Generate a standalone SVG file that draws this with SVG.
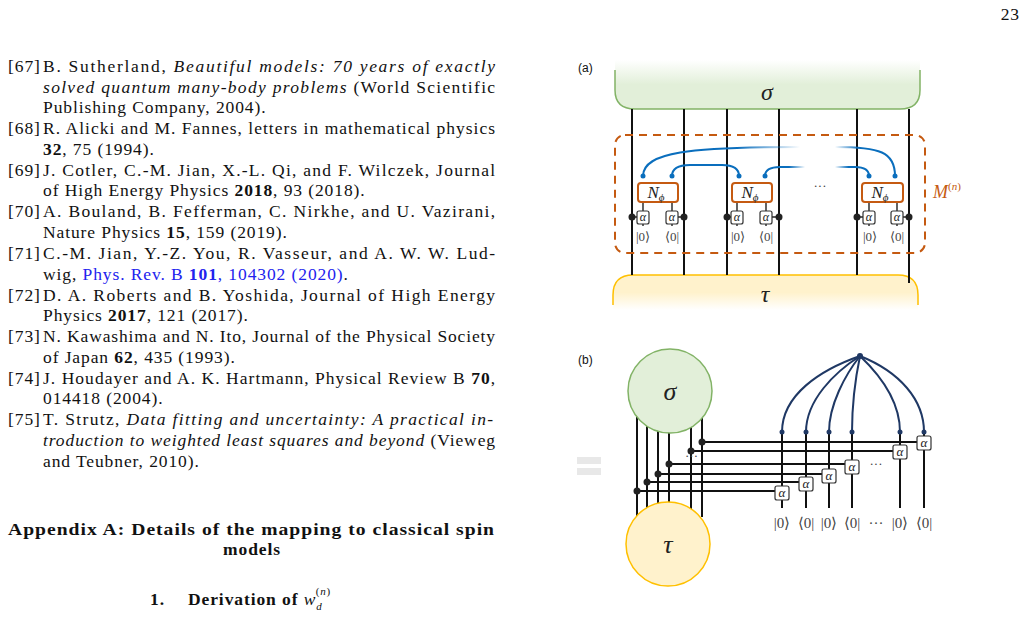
<svg xmlns="http://www.w3.org/2000/svg" width="1028" height="618" viewBox="0 0 1028 618">
<defs>
<style>
.t{font-family:"Liberation Serif",serif;font-size:17.5px;letter-spacing:0.9px;fill:#111}
.i{font-style:italic}
.b{font-weight:bold}
.lk{fill:#2222ee}
.sf{font-family:"Liberation Sans",sans-serif;font-size:12px;fill:#111}
.m{font-family:"Liberation Serif",serif;font-style:italic;fill:#222}
.k{font-family:"Liberation Serif",serif;fill:#444}
.w{stroke:#111;stroke-width:2;fill:none}
.bl{stroke:#0a6ebd;stroke-width:2;fill:none}
.nv{stroke:#1f3864;stroke-width:2;fill:none}
.al{fill:#fff;stroke:#333;stroke-width:1.2}
.nb{fill:#fff;stroke:#c55a11;stroke-width:2}
</style>
<linearGradient id="gs" x1="0" y1="0" x2="0" y2="1"><stop offset="0" stop-color="#fff"/><stop offset="0.5" stop-color="#e2efd9"/></linearGradient>
<linearGradient id="gt" x1="0" y1="0" x2="0" y2="1"><stop offset="0.5" stop-color="#fff2cc"/><stop offset="1" stop-color="#fff"/></linearGradient>
<linearGradient id="fadeR" x1="0" y1="0" x2="1" y2="0"><stop offset="0.6" stop-color="#0a6ebd"/><stop offset="1" stop-color="#0a6ebd" stop-opacity="0"/></linearGradient>
<linearGradient id="fadeL" x1="0" y1="0" x2="1" y2="0"><stop offset="0" stop-color="#0a6ebd" stop-opacity="0"/><stop offset="0.4" stop-color="#0a6ebd"/></linearGradient>
</defs>
<rect width="1028" height="618" fill="#fff"/>
<text class="t" x="1020" y="20" text-anchor="end">23</text>

<g id="refs">
<text class="t" x="8" y="72">[67]</text>
<text class="t" x="43" y="72" textLength="453" lengthAdjust="spacing">B. Sutherland, <tspan class="i">Beautiful models: 70 years of exactly</tspan></text>
<text class="t" x="43" y="93" textLength="453" lengthAdjust="spacing"><tspan class="i">solved quantum many-body problems</tspan> (World Scientific</text>
<text class="t" x="43" y="113">Publishing Company, 2004).</text>
<text class="t" x="8" y="134">[68]</text>
<text class="t" x="43" y="134" textLength="453" lengthAdjust="spacing">R. Alicki and M. Fannes, letters in mathematical physics</text>
<text class="t" x="43" y="155"><tspan class="b">32</tspan>, 75 (1994).</text>
<text class="t" x="8" y="176">[69]</text>
<text class="t" x="43" y="176" textLength="453" lengthAdjust="spacing">J. Cotler, C.-M. Jian, X.-L. Qi,  and F. Wilczek, Journal</text>
<text class="t" x="43" y="196">of High Energy Physics <tspan class="b">2018</tspan>, 93 (2018).</text>
<text class="t" x="8" y="217">[70]</text>
<text class="t" x="43" y="217" textLength="453" lengthAdjust="spacing">A. Bouland, B. Fefferman, C. Nirkhe,  and U. Vazirani,</text>
<text class="t" x="43" y="238">Nature Physics <tspan class="b">15</tspan>, 159 (2019).</text>
<text class="t" x="8" y="259">[71]</text>
<text class="t" x="43" y="259" textLength="453" lengthAdjust="spacing">C.-M. Jian, Y.-Z. You, R. Vasseur,  and A. W. W. Lud-</text>
<text class="t" x="43" y="280">wig, <tspan class="lk">Phys. Rev. B <tspan class="b">101</tspan>, 104302 (2020)</tspan>.</text>
<text class="t" x="8" y="301">[72]</text>
<text class="t" x="43" y="301" textLength="453" lengthAdjust="spacing">D. A. Roberts and B. Yoshida, Journal of High Energy</text>
<text class="t" x="43" y="321">Physics <tspan class="b">2017</tspan>, 121 (2017).</text>
<text class="t" x="8" y="342">[73]</text>
<text class="t" x="43" y="342" textLength="453" lengthAdjust="spacing">N. Kawashima and N. Ito, Journal of the Physical Society</text>
<text class="t" x="43" y="363">of Japan <tspan class="b">62</tspan>, 435 (1993).</text>
<text class="t" x="8" y="384">[74]</text>
<text class="t" x="43" y="384" textLength="453" lengthAdjust="spacing">J. Houdayer and A. K. Hartmann, Physical Review B <tspan class="b">70</tspan>,</text>
<text class="t" x="43" y="404">014418 (2004).</text>
<text class="t" x="8" y="425">[75]</text>
<text class="t" x="43" y="425" textLength="451" lengthAdjust="spacing">T. Strutz, <tspan class="i">Data fitting and uncertainty: A practical in-</tspan></text>
<text class="t" x="43" y="446" textLength="453" lengthAdjust="spacing"><tspan class="i">troduction to weighted least squares and beyond</tspan> (Vieweg</text>
<text class="t" x="43" y="467">and Teubner, 2010).</text>
<text class="t b" x="8" y="535" textLength="487" lengthAdjust="spacingAndGlyphs">Appendix A: Details of the mapping to classical spin</text>
<text class="t b" x="252" y="555" text-anchor="middle">models</text>
<text class="t b" x="150" y="605">1.</text>
<text class="t" x="188" y="605"><tspan class="b">Derivation of </tspan><tspan class="i">w</tspan><tspan class="i" font-size="11" dy="5">d</tspan><tspan font-size="11" dx="-7" dy="-15">(<tspan class="i">n</tspan>)</tspan></text>
</g>

<g id="panel-a">
<text class="sf" x="578" y="72">(a)</text>
<g id="sigma-a">
<path d="M615,60 L920,60 L920,90 Q920,109 900,109 L635,109 Q615,109 615,90 Z" fill="url(#gs)"/>
<path d="M615,70 L615,90 Q615,109 635,109 L900,109 Q920,109 920,90 L920,70" fill="none" stroke="#82b366" stroke-width="1.5"/>
<text class="m" x="767" y="100" font-size="24" text-anchor="middle">σ</text>
</g>
<g id="tau-a">
<path d="M613,310 L613,295 Q613,275 633,275 L898,275 Q918,275 918,295 L918,310 Z" fill="url(#gt)"/>
<path d="M613,305 L613,295 Q613,275 633,275 L898,275 Q918,275 918,295 L918,305" fill="none" stroke="#ffc000" stroke-width="1.5"/>
<text class="m" x="765" y="302" font-size="24" text-anchor="middle">τ</text>
</g>
<g id="wires-a" class="w">
<path d="M632,109V275M684,109V275M727,109V275M779,109V275M857,109V275M909,109V283"/>
<path d="M643,202V226M672,202V226M737,202V226M766,202V226M869,202V226M897,202V226" stroke-width="1.3"/>
</g>
<rect id="box-M" x="615" y="135" width="310" height="118" rx="10" fill="none" stroke="#c55a11" stroke-width="2" stroke-dasharray="8,6"/>
<text class="m" x="933" y="198" font-size="18" style="fill:#c55a11">M<tspan font-size="11" dy="-8" font-style="normal">(</tspan><tspan font-size="11">n</tspan><tspan font-size="11" font-style="normal">)</tspan></text>
<g id="arcs-a">
<path d="M643,176 C643,152 690,147 800,147" stroke="url(#fadeR)" stroke-width="2" fill="none"/>
<path d="M835,147 C880,147 895,152 895,176" stroke="url(#fadeL)" stroke-width="2" fill="none"/>
<path class="bl" d="M672,176 Q672,165 690,165 L722,165 Q739,165 739,176"/>
<path d="M765,176 Q765,167 780,167 L805,167" stroke="url(#fadeR)" stroke-width="2" fill="none"/>
<path d="M835,167 L855,167 Q869,167 869,176" stroke="url(#fadeL)" stroke-width="2" fill="none"/>
<g fill="#0a6ebd"><circle cx="643" cy="176" r="2.5"/><circle cx="672" cy="176" r="2.5"/><circle cx="739" cy="176" r="2.5"/><circle cx="765" cy="176" r="2.5"/><circle cx="869" cy="176" r="2.5"/><circle cx="895" cy="176" r="2.5"/></g>
</g>
<g id="N1"><rect class="nb" x="638" y="183" width="40" height="19" rx="3"/><text class="m" x="656" y="198" font-size="17" text-anchor="middle">N<tspan font-size="11" dy="3">ϕ</tspan></text></g>
<g id="N2"><rect class="nb" x="732" y="183" width="40" height="19" rx="3"/><text class="m" x="750" y="198" font-size="17" text-anchor="middle">N<tspan font-size="11" dy="3">ϕ</tspan></text></g>
<g id="N3"><rect class="nb" x="862" y="183" width="41" height="19" rx="3"/><text class="m" x="880" y="198" font-size="17" text-anchor="middle">N<tspan font-size="11" dy="3">ϕ</tspan></text></g>
<text class="k" x="820" y="190" font-size="13" text-anchor="middle">···</text>
<g id="alphas-a">
<g fill="#222"><circle cx="632" cy="217" r="3.5"/><circle cx="684" cy="217" r="3.5"/><circle cx="727" cy="217" r="3.5"/><circle cx="779" cy="217" r="3.5"/><circle cx="857" cy="217" r="3.5"/><circle cx="909" cy="217" r="3.5"/></g>
<path d="M632,217H637M684,217H678M727,217H731M779,217H772M857,217H863M909,217H903" stroke="#222" stroke-width="1.3"/>
<rect class="al" x="637" y="211" width="12" height="13" rx="2"/><rect class="al" x="666" y="211" width="12" height="13" rx="2"/>
<rect class="al" x="731" y="211" width="12" height="13" rx="2"/><rect class="al" x="760" y="211" width="12" height="13" rx="2"/>
<rect class="al" x="863" y="211" width="12" height="13" rx="2"/><rect class="al" x="891" y="211" width="12" height="13" rx="2"/>
<g class="m" font-size="12" text-anchor="middle"><text x="643" y="221">α</text><text x="672" y="221">α</text><text x="737" y="221">α</text><text x="766" y="221">α</text><text x="869" y="221">α</text><text x="897" y="221">α</text></g>
<g class="k" font-size="13" text-anchor="middle"><text x="643" y="241">|0⟩</text><text x="672" y="241">⟨0|</text><text x="738" y="241">|0⟩</text><text x="766" y="241">⟨0|</text><text x="870" y="241">|0⟩</text><text x="897" y="241">⟨0|</text></g>
</g>
</g>

<g id="panel-b">
<text class="sf" x="578" y="364">(b)</text>
<g fill="#e8e8e8"><rect x="577" y="457" width="24" height="7"/><rect x="577" y="468" width="24" height="7"/></g>
<g id="wires-b" class="w">
<path d="M637,415V517M647,415V517M658,415V517M669,415V517M691,415V517M702,415V517"/>
<path d="M637,491H776M647,482H799M658,474H822M669,464H680M691,451H893M702,442H917"/>
<path d="M680,464H845"/>
<path d="M782,432V508M806,432V508M829,432V508M852,432V508M900,432V508M924,432V508"/>
</g>
<g id="sigma-b"><circle cx="670" cy="391" r="42" fill="#e2efd9" stroke="#82b366" stroke-width="1.5"/><text class="m" x="670" y="400" font-size="26" text-anchor="middle">σ</text></g>
<g id="tau-b"><circle cx="668" cy="544" r="42" fill="#fff2cc" stroke="#ffc000" stroke-width="1.5"/><text class="m" x="668" y="553" font-size="26" text-anchor="middle">τ</text></g>
<g fill="#222"><circle cx="637" cy="491" r="3.5"/><circle cx="647" cy="482" r="3.5"/><circle cx="658" cy="474" r="3.5"/><circle cx="669" cy="464" r="3.5"/><circle cx="691" cy="451" r="3.5"/><circle cx="702" cy="442" r="3.5"/></g>
<text class="k" x="685" y="460" font-size="13">···</text>
<text class="k" x="876" y="468" font-size="13" text-anchor="middle">···</text>
<g id="fan-b" class="nv">
<path d="M860,356 C820,370 782,395 782,432"/>
<path d="M860,356 C835,372 806,400 806,432"/>
<path d="M860,356 C845,375 829,405 829,432"/>
<path d="M860,356 C855,380 852,405 852,432"/>
<path d="M860,356 C880,375 900,400 900,432"/>
<path d="M860,356 C900,372 924,400 924,432"/>
</g>
<g fill="#1f3864"><circle cx="860" cy="356" r="3"/><circle cx="782" cy="432" r="2.5"/><circle cx="806" cy="432" r="2.5"/><circle cx="829" cy="432" r="2.5"/><circle cx="852" cy="432" r="2.5"/><circle cx="900" cy="432" r="2.5"/><circle cx="924" cy="432" r="2.5"/></g>
<g id="alphas-b">
<rect class="al" x="775" y="486" width="14" height="14" rx="2"/><rect class="al" x="799" y="477" width="14" height="14" rx="2"/><rect class="al" x="822" y="469" width="14" height="14" rx="2"/><rect class="al" x="845" y="460" width="14" height="14" rx="2"/><rect class="al" x="893" y="445" width="14" height="14" rx="2"/><rect class="al" x="917" y="436" width="14" height="14" rx="2"/>
<g class="m" font-size="13" text-anchor="middle"><text x="782" y="497">α</text><text x="806" y="488">α</text><text x="829" y="480">α</text><text x="852" y="471">α</text><text x="900" y="456">α</text><text x="924" y="447">α</text></g>
</g>
<g class="k" font-size="15" text-anchor="middle"><text x="782" y="528">|0⟩</text><text x="806" y="528">⟨0|</text><text x="829" y="528">|0⟩</text><text x="852" y="528">⟨0|</text><text x="876" y="528">···</text><text x="900" y="528">|0⟩</text><text x="924" y="528">⟨0|</text></g>
</g>
</svg>
